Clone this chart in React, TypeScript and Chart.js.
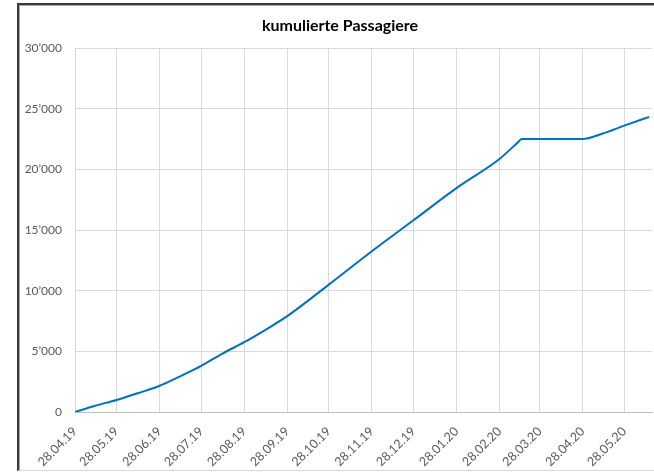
import React, { useEffect, useRef } from "react";
import { Chart, registerables } from "chart.js";

Chart.register(...registerables);

// ---- data ----
const TITLE = "kumulierte Passagiere";

const DATES = [
  "28.04.19", "12.05.19", "28.05.19", "12.06.19", "28.06.19", "12.07.19",
  "22.07.19", "28.07.19", "12.08.19", "28.08.19", "12.09.19", "28.09.19",
  "28.10.19", "28.11.19", "28.12.19", "28.01.20", "28.02.20", "13.03.20",
  "15.03.20", "28.04.20", "12.05.20", "28.05.20", "15.06.20",
];

const VALUES = [
  0, 495, 990, 1540, 2160, 2900,
  3450, 3800, 4800, 5750, 6750, 7900,
  10500, 13250, 15800, 18450, 20850, 22300,
  22500, 22500, 22930, 23600, 24320,
];

const TICK_DATES = [
  "28.04.19", "28.05.19", "28.06.19", "28.07.19", "28.08.19", "28.09.19",
  "28.10.19", "28.11.19", "28.12.19", "28.01.20", "28.02.20", "28.03.20",
  "28.04.20", "28.05.20",
];

const Y_MIN = 0;
const Y_MAX = 30000;
const Y_STEP = 5000;
const X_END_DATE = "17.06.20";

// ---- helpers ----
const BASE = Date.UTC(2019, 3, 28);
function toDay(s: string): number {
  const [d, m, y] = s.split(".").map(Number);
  return Math.round((Date.UTC(2000 + y, m - 1, d) - BASE) / 86400000);
}
function fmt(n: number): string {
  return Math.round(n).toString().replace(/\B(?=(\d{3})+(?!\d))/g, "\u2019");
}

const FONT = "Lato, 'Open Sans', 'DejaVu Sans', sans-serif";

const titlePlugin = {
  id: "excelTitle",
  afterDraw(chart: any) {
    const ctx = chart.ctx;
    ctx.save();
    ctx.font = `bold 16px ${FONT}`;
    ctx.fillStyle = "#000000";
    ctx.textAlign = "center";
    ctx.textBaseline = "middle";
    ctx.fillText(TITLE, 340, 26);
    ctx.restore();
  },
};

export default function App() {
  const ref = useRef<HTMLCanvasElement>(null);

  useEffect(() => {
    const points = DATES.map((d, i) => ({ x: toDay(d), y: VALUES[i] }));
    const tickVals = TICK_DATES.map(toDay);
    const chart = new Chart(ref.current as HTMLCanvasElement, {
      type: "line",
      data: {
        datasets: [
          {
            data: points,
            borderColor: "#0070C0",
            borderWidth: 2,
            pointRadius: 0,
            fill: false,
            cubicInterpolationMode: "monotone",
          },
        ],
      },
      options: {
        animation: false,
        responsive: false,
        layout: { padding: { top: 48, right: 2, left: 0, bottom: 0 } },
        plugins: {
          legend: { display: false },
          tooltip: { enabled: false },
          title: { display: false },
        },
        scales: {
          x: {
            type: "linear",
            min: 0,
            max: toDay(X_END_DATE),
            afterBuildTicks: (s: any) => {
              s.ticks = tickVals.map((v) => ({ value: v }));
            },
            afterFit: (s: any) => {
              s.height = 60;
            },
            grid: { color: "#d9d9d9", drawTicks: false },
            border: { color: "#bfbfbf", width: 1 },
            ticks: {
              autoSkip: false,
              minRotation: 45,
              maxRotation: 45,
              padding: 12,
              color: "#595959",
              font: { family: FONT, size: 12.5 },
              callback: (v: any) => {
                const i = tickVals.indexOf(Number(v));
                return i >= 0 ? TICK_DATES[i] : "";
              },
            },
          },
          y: {
            min: Y_MIN,
            max: Y_MAX,
            afterFit: (s: any) => {
              s.width = 75;
            },
            grid: { color: "#d9d9d9", drawTicks: false },
            border: { display: false },
            ticks: {
              stepSize: Y_STEP,
              padding: 13,
              color: "#595959",
              font: { family: FONT, size: 12 },
              callback: (v: any) => fmt(Number(v)),
            },
          },
        },
      },
      plugins: [titlePlugin],
    });
    return () => chart.destroy();
  }, []);

  return (
    <div>
      <div
        style={{
          position: "absolute",
          left: 17,
          top: 3,
          width: 637,
          height: 468,
          boxSizing: "border-box",
          borderLeft: "2px solid #3a3a3a",
          borderTop: "2px solid #3a3a3a",
          borderBottom: "1px solid #d9d9d9",
          boxShadow: "inset 1px 1px 0 #a6a6a6",
          background: "#ffffff",
        }}
      />
      <canvas
        ref={ref}
        width={654}
        height={472}
        style={{ position: "absolute", left: 0, top: 0, display: "block" }}
      />
    </div>
  );
}
